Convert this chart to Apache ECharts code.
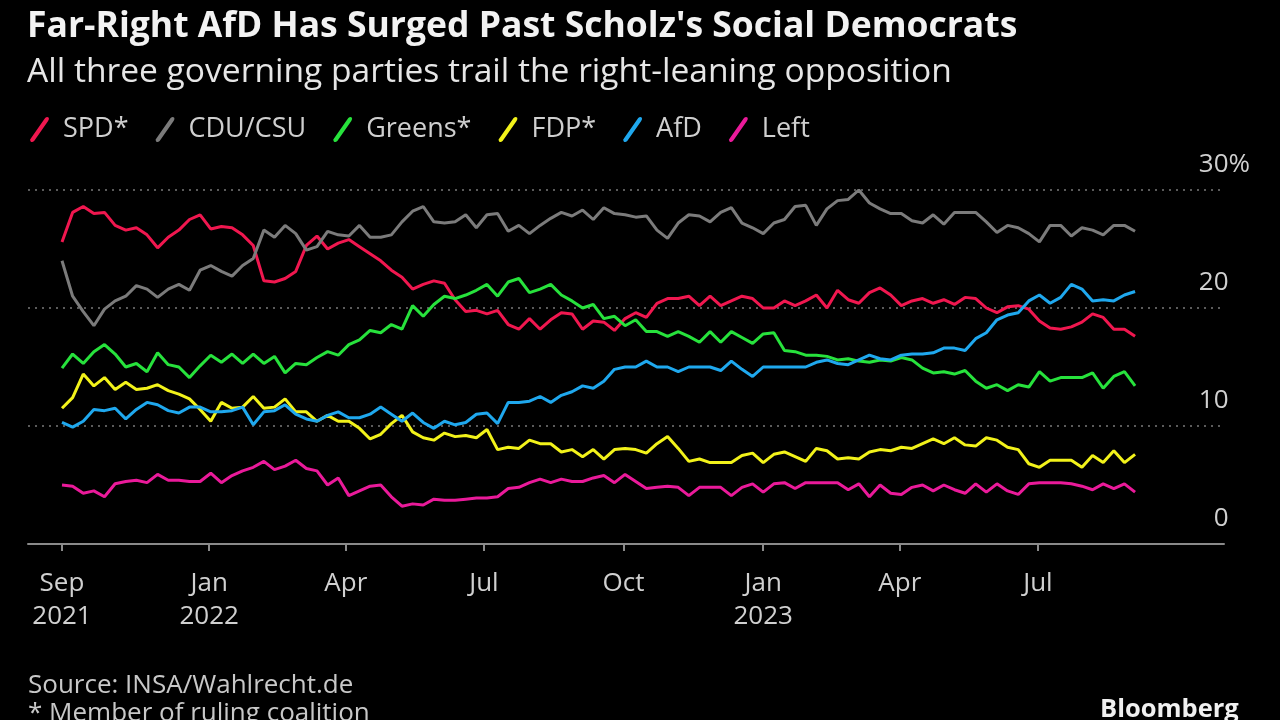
<!DOCTYPE html>
<html>
<head>
<meta charset="utf-8">
<script src="https://cdn.jsdelivr.net/npm/echarts@6/dist/echarts.min.js"></script>
<style>
html,body{margin:0;padding:0;background:#000;}
#c{width:1280px;height:720px;}
</style>
</head>
<body>
<div id="c"></div>
<script>
// Weekly poll readings, first point = 26 Sep 2021 (day 0), one per week
const seriesNames = ['SPD*', 'CDU/CSU', 'Greens*', 'FDP*', 'AfD', 'Left'];
const spd = [25.6,28.1,28.6,28.0,28.1,27.0,26.6,26.8,26.2,25.1,26.0,26.6,27.5,27.9,26.7,26.9,26.8,26.2,25.3,22.3,22.2,22.5,23.1,25.3,26.1,25.0,25.5,25.8,25.2,24.6,24.0,23.2,22.6,21.6,22.0,22.3,22.1,20.7,19.7,19.8,19.5,19.8,18.6,18.2,19.1,18.2,19.0,19.6,19.5,18.2,18.9,18.8,18.1,19.1,19.6,19.2,20.4,20.8,20.8,21.0,20.2,21.0,20.2,20.6,21.0,20.8,20.0,20.0,20.6,20.2,20.6,21.1,20.0,21.5,20.7,20.4,21.3,21.7,21.1,20.2,20.6,20.8,20.4,20.7,20.3,20.9,20.8,20.0,19.6,20.1,20.2,19.9,18.9,18.3,18.2,18.4,18.8,19.5,19.2,18.2,18.2,17.6];
const cdu = [24.0,21.0,19.7,18.5,19.9,20.6,21.0,21.9,21.6,20.9,21.6,22.0,21.5,23.2,23.6,23.1,22.7,23.6,24.2,26.6,26.0,27.0,26.3,24.9,25.2,26.5,26.2,26.1,27.0,26.0,26.0,26.2,27.3,28.2,28.6,27.3,27.2,27.3,27.9,26.8,27.9,28.0,26.5,27.0,26.3,27.0,27.6,28.1,27.8,28.3,27.5,28.5,28.0,27.9,27.7,27.8,26.6,25.9,27.2,27.9,27.8,27.3,28.1,28.5,27.2,26.8,26.3,27.2,27.5,28.6,28.7,27.0,28.4,29.1,29.2,30.0,28.9,28.4,28.0,28.0,27.4,27.2,27.9,27.1,28.1,28.1,28.1,27.3,26.4,27.0,26.8,26.3,25.6,27.0,27.0,26.1,26.8,26.6,26.2,27.0,27.0,26.5];
const greens = [14.9,16.1,15.3,16.3,16.9,16.1,15.0,15.3,14.6,16.2,15.2,15.0,14.1,15.1,16.0,15.4,16.1,15.3,16.1,15.3,15.9,14.5,15.3,15.2,15.8,16.3,16.0,16.9,17.3,18.1,17.9,18.6,18.2,20.2,19.3,20.3,21.0,20.8,21.1,21.5,22.0,21.0,22.2,22.5,21.3,21.6,22.0,21.1,20.6,20.0,20.3,19.1,19.3,18.5,19.0,18.0,18.0,17.6,18.0,17.6,17.1,18.0,17.1,18.0,17.5,17.0,17.8,17.9,16.4,16.3,16.0,16.0,15.9,15.6,15.7,15.5,15.4,15.6,15.5,15.8,15.6,14.9,14.5,14.6,14.4,14.7,13.8,13.2,13.5,13.0,13.5,13.3,14.6,13.8,14.1,14.1,14.1,14.5,13.2,14.2,14.6,13.4];
const fdp = [11.5,12.4,14.4,13.4,14.1,13.1,13.7,13.1,13.2,13.5,13.0,12.7,12.3,11.4,10.4,12.0,11.5,11.6,12.5,11.5,11.6,12.3,11.2,11.2,10.4,10.9,10.4,10.4,9.8,8.9,9.3,10.2,10.9,9.5,9.0,8.8,9.4,9.1,9.2,9.0,9.7,8.0,8.2,8.1,8.8,8.5,8.5,7.8,8.0,7.4,8.0,7.2,8.0,8.1,8.0,7.7,8.5,9.1,8.1,7.0,7.2,6.9,6.9,6.9,7.5,7.7,6.9,7.6,7.8,7.4,7.0,8.1,7.9,7.2,7.3,7.2,7.8,8.0,7.9,8.2,8.1,8.5,8.9,8.5,9.0,8.4,8.3,9.0,8.8,8.2,8.0,6.8,6.5,7.1,7.1,7.1,6.5,7.5,6.9,7.9,6.9,7.6];
const afd = [10.3,9.9,10.4,11.4,11.3,11.5,10.6,11.4,12.0,11.8,11.3,11.1,11.6,11.6,11.2,11.2,11.3,11.6,10.1,11.2,11.3,11.8,11.0,10.6,10.4,10.9,11.2,10.7,10.7,11.0,11.6,11.0,10.4,11.1,10.3,9.8,10.4,10.1,10.3,11.0,11.1,10.2,12.0,12.0,12.1,12.5,12.0,12.6,12.9,13.4,13.2,13.8,14.8,15.0,15.0,15.5,15.0,15.0,14.6,15.0,15.0,15.0,14.7,15.5,14.8,14.2,15.0,15.0,15.0,15.0,15.0,15.4,15.6,15.3,15.2,15.6,16.0,15.7,15.6,16.0,16.1,16.1,16.2,16.6,16.6,16.4,17.4,17.9,19.0,19.4,19.6,20.6,21.1,20.4,20.9,22.0,21.6,20.6,20.7,20.6,21.1,21.4];
const left = [5.0,4.9,4.3,4.5,4.0,5.1,5.3,5.4,5.2,5.9,5.4,5.4,5.3,5.3,6.0,5.2,5.8,6.2,6.5,7.0,6.3,6.6,7.1,6.4,6.2,5.0,5.6,4.1,4.5,4.9,5.0,4.0,3.2,3.4,3.3,3.8,3.7,3.7,3.8,3.9,3.9,4.0,4.7,4.8,5.2,5.5,5.2,5.5,5.3,5.3,5.6,5.8,5.2,5.9,5.3,4.7,4.8,4.9,4.8,4.1,4.8,4.8,4.8,4.1,4.8,5.1,4.4,5.1,5.2,4.7,5.2,5.2,5.2,5.2,4.6,5.1,4.0,5.0,4.3,4.2,4.8,5.0,4.5,5.0,4.6,4.3,5.1,4.4,5.1,4.5,4.2,5.1,5.2,5.2,5.2,5.1,4.9,4.6,5.1,4.7,5.1,4.4];

// X tick positions (days after 26 Sep 2021) and their labels
const tickDays = [0, 97, 187, 278, 370, 462, 552, 643];
const tickLabels = ['Sep\n2021', 'Jan\n2022', 'Apr', 'Jul', 'Oct', 'Jan\n2023', 'Apr', 'Jul'];

const colors = ['#f0174f', '#7b7b7b', '#27e23c', '#f2f21a', '#1fa8ee', '#ea1a9a'];
const allSeries = [spd, cdu, greens, fdp, afd, left];

const FONT = '"Open Sans", "Noto Sans", sans-serif';
const chart = echarts.init(document.getElementById('c'), null, {renderer: 'canvas'});

const slash = 'path://M2,22 L16,2 Q18,0 19.5,1.5 Q20.5,3 19,5 L5,25 Q3,27 1.5,25.5 Q0,24 2,22 Z';

chart.setOption({
  backgroundColor: '#000',
  animation: false,
  title: [
    {text: 'Far-Right AfD Has Surged Past Scholz\'s Social Democrats', left: 27, top: 9, padding: 0,
     textStyle: {color: '#f2f2f2', fontSize: 35.5, fontWeight: 'bold', fontFamily: FONT}},
    {text: 'All three governing parties trail the right-leaning opposition', left: 27, top: 55, padding: 0,
     textStyle: {color: '#e6e6e6', fontSize: 33.6, fontWeight: 'normal', fontFamily: FONT}}
  ],
  legend: {
    left: 30, top: 116, padding: 0,
    icon: slash, itemWidth: 19, itemHeight: 26, itemGap: 27,
    textStyle: {color: '#cfcfcf', fontSize: 27, fontFamily: FONT, padding: [0, 0, 0, 9]},
    data: seriesNames
  },
  grid: {left: 28, right: 56, top: 190, bottom: 176, containLabel: false},
  xAxis: {
    type: 'value', min: -22.4, max: 765.6,
    axisLine: {show: true, lineStyle: {color: '#8a8a8a', width: 2}},
    axisTick: {show: true, customValues: tickDays, length: 7, lineStyle: {color: '#8a8a8a', width: 2}},
    axisLabel: {
      customValues: tickDays, margin: 23, color: '#d0d0d0', fontSize: 26, lineHeight: 33, fontFamily: FONT,
      formatter: v => { const i = tickDays.indexOf(v); return i >= 0 ? tickLabels[i] : ''; }
    },
    splitLine: {show: false}
  },
  yAxis: {
    type: 'value', position: 'right', min: 0, max: 30, interval: 10,
    axisLine: {show: false}, axisTick: {show: false},
    axisLabel: {
      margin: 26, align: 'right', verticalAlign: 'bottom', padding: [0, 0, 12, 0],
      color: '#d0d0d0', fontSize: 26, fontFamily: FONT,
      formatter: v => v === 30 ? '{n|30%}' : '{n|' + v + '}{h|%}',
      rich: {n: {color: '#d0d0d0', fontSize: 26, fontFamily: FONT}, h: {color: 'rgba(0,0,0,0)', fontSize: 26, fontFamily: FONT}}
    },
    splitLine: {show: true, lineStyle: {color: '#7a7a7a', width: 1.5, type: [2, 5]}}
  },
  series: allSeries.map((arr, si) => ({
    name: seriesNames[si], type: 'line', showSymbol: false, clip: false,
    itemStyle: {color: colors[si]},
    lineStyle: {color: colors[si], width: 3},
    data: arr.map((v, k) => [k * 7, v])
  })),
  graphic: [
    {type: 'text', left: 28, top: 673, style: {text: 'Source: INSA/Wahlrecht.de', fill: '#c8c8c8', fontSize: 26, fontFamily: FONT}},
    {type: 'text', left: 28, top: 701, style: {text: '* Member of ruling coalition', fill: '#c8c8c8', fontSize: 26, fontFamily: FONT}},
    {type: 'text', left: 1100, top: 697, style: {text: 'Bloomberg', fill: '#f0f0f0', fontSize: 25.5, fontWeight: 'bold', fontFamily: FONT}}
  ]
});
</script>
</body>
</html>
